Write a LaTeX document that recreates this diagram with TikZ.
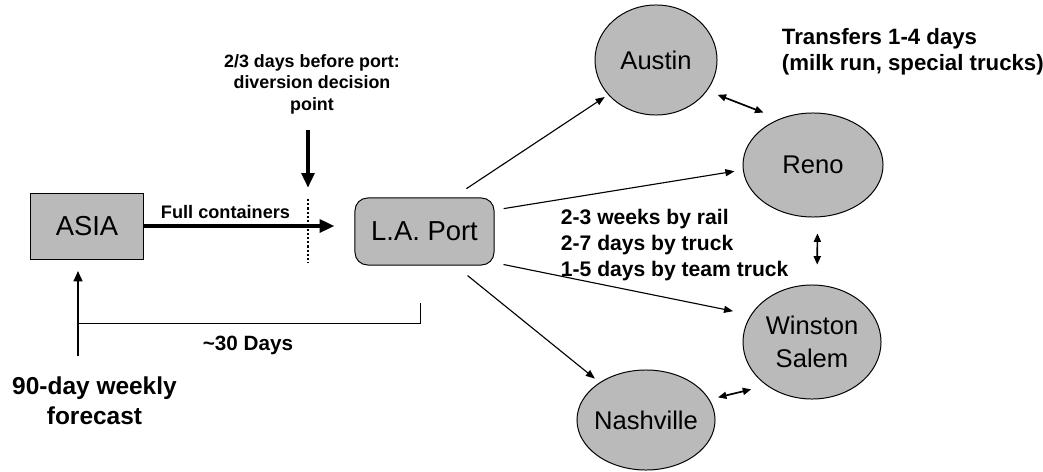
\documentclass[tikz,border=0pt]{standalone}
\usepackage{fontspec}
\setmainfont{Liberation Sans}
\usepackage{tikz}
\usetikzlibrary{shapes.geometric, arrows.meta, positioning}
\definecolor{boxgray}{RGB}{186,186,186}
\tikzset{
  hub/.style={rectangle, draw=black, fill=boxgray, line width=0.7pt,
    minimum height=1.65cm, font=\fontsize{19.5}{23}\selectfont},
  site/.style={ellipse, draw=black, fill=boxgray, line width=0.7pt,
    inner xsep=-6pt, inner ysep=0pt, align=center,
    font=\fontsize{18.2}{23.5}\selectfont},
  note/.style={align=center, font=\bfseries\fontsize{12.7}{15.3}\selectfont},
  link/.style={-{Triangle[length=6.5pt,width=5pt]}, line width=0.8pt},
  swap/.style={{Triangle[length=6pt,width=5pt]}-{Triangle[length=6pt,width=5pt]}, line width=1.2pt},
  ship/.style={-{Triangle[length=10.5pt,width=9pt]}, line width=2.8pt},
  lift/.style={-{Triangle[length=7.5pt,width=6pt]}, line width=1.8pt},
  span/.style={line width=0.7pt},
  divline/.style={line width=1.5pt, dash pattern=on 1.5pt off 1.5pt}
}
\begin{document}
\begin{tikzpicture}[x=0.025cm, y=-0.025cm]
  \useasboundingbox (0,0) rectangle (1043,472);

  % supply side
  \node[hub, minimum width=2.8cm] (ASIA) at (87,226) {ASIA};
  \node[hub, minimum width=3.475cm, minimum height=1.675cm, rounded corners=9pt] (LA) at (424.5,231.5) {L.A. Port};

  % plants
  \node[site, minimum width=3.05cm, minimum height=2.75cm] (Austin) at (656,60) {Austin};
  \node[site, minimum width=3.5cm, minimum height=2.6cm] (Reno) at (813,165) {Reno};
  \node[site, minimum width=3.45cm, minimum height=2.85cm] (Winston) at (812,342) {Winston\\Salem};
  \node[site, minimum width=3.45cm, minimum height=2.5cm] (Nashville) at (646,420) {Nashville};

  % texts
  \node[note] (decide) at (312,84) {2/3 days before port:\\diversion decision\\point};
  \node[note, font=\bfseries\fontsize{12.9}{15}\selectfont] (full) at (225.5,212) {Full containers};
  \node[note, font=\bfseries\fontsize{17.4}{21.3}\selectfont] (fcast) at (94.5,401) {90-day weekly\\forecast};
  \node[note, font=\bfseries\fontsize{14.7}{17}\selectfont] (days) at (248,345) {\textasciitilde30 Days};
  \node[note, align=left, anchor=west, font=\bfseries\fontsize{15}{18.5}\selectfont] (modes) at (556,245) {2-3 weeks by rail\\2-7 days by truck\\1-5 days by team truck};
  \node[note, align=left, anchor=west, font=\bfseries\fontsize{15.8}{18.5}\selectfont] (transfer) at (777,52) {Transfers 1-4 days\\(milk run, special trucks)};

  % diversion point
  \coordinate (divtop) at (308,199);
  \coordinate (divbot) at (308,263);
  \draw[divline] (divtop) -- (divbot);
  \draw[ship, shorten <=0.28cm, shorten >=0.28cm] (decide.south -| divtop) -- (divtop);

  % ocean leg
  \draw[ship, shorten >=0.5cm] (ASIA.east) -- (ASIA.east -| LA.west);

  % forecast and lead time
  \coordinate (gapL) at (78,323);
  \coordinate (gapR) at (420,303);
  \draw[lift, shorten <=0.4cm, shorten >=0.28cm] (fcast.north -| gapL) -- (ASIA.south -| gapL);
  \draw[span] (gapL) -| (gapR);

  % inland legs
  \draw[link, shorten <=0.4cm, shorten >=0.1cm] (LA.50) -- (Austin.216);
  \draw[link, shorten <=0.23cm, shorten >=0.21cm] (LA.17.6) -- (Reno.184.7);
  \draw[link, shorten <=0.23cm, shorten >=0.45cm] (LA.-24.5) -- (Winston.156.7);
  \draw[link, shorten <=0.4cm, shorten >=0.15cm] (LA.-48) -- (Nashville.141.2);

  % transfers between plants
  \draw[swap, shorten <=0.28cm, shorten >=0.43cm] (Austin.-31.5) -- (Reno.126.6);
  \draw[swap, shorten <=0.4cm, shorten >=0.5cm] (Reno.-85.6) -- (Winston.85);
  \draw[swap, shorten <=0.22cm, shorten >=0.4cm] (Nashville.18.7) -- (Winston.224.3);
\end{tikzpicture}
\end{document}
